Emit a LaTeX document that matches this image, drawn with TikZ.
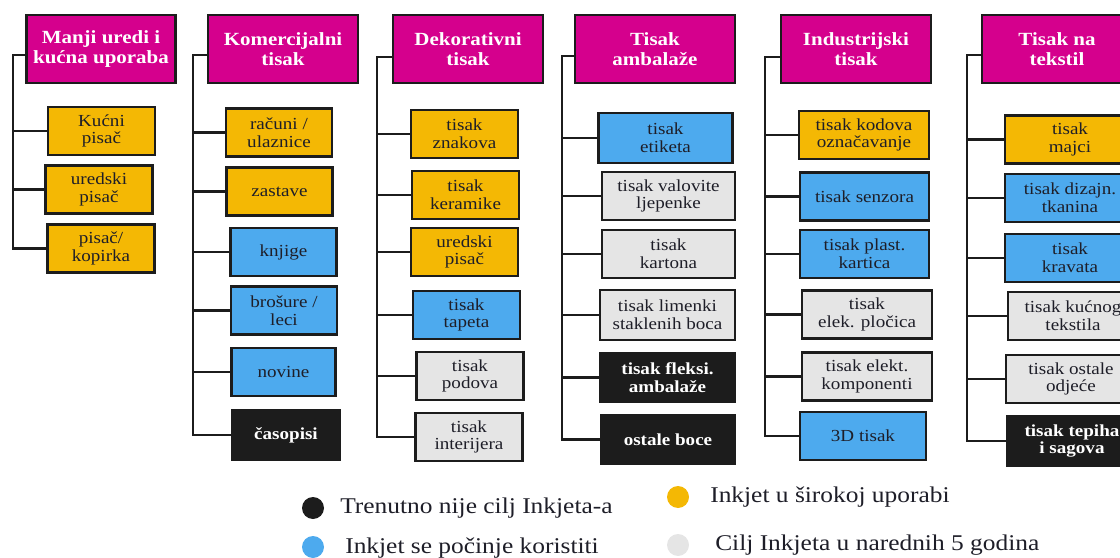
\documentclass[tikz,border=0pt]{standalone}
\usepackage{fontspec}
\setmainfont{Liberation Serif}[FakeStretch=1.13]
\usetikzlibrary{positioning,calc}
\definecolor{cmag}{RGB}{213, 0, 141}
\definecolor{cyel}{RGB}{244, 184, 4}
\definecolor{cblu}{RGB}{77, 170, 238}
\definecolor{cgry}{RGB}{229, 229, 229}
\definecolor{cblk}{RGB}{28, 28, 28}
\definecolor{ctxt}{RGB}{30, 30, 40}
\tikzset{
    head/.style={draw=cblk, line width=1.5pt, fill=cmag, text=white, align=center, inner sep=0pt,
        minimum width=150*0.025cm, minimum height=68*0.025cm, font=\bfseries\fontsize{13.2}{14.5}\selectfont},
    leaf/.style={draw=cblk, line width=1.5pt, text=ctxt, align=center, inner sep=0pt,
        minimum width=#1*0.025cm, minimum height=48*0.025cm, font=\fontsize{12}{12.6}\selectfont},
    leaf/.default=107,
    dark/.style={fill=cblk, text=white, font=\bfseries\fontsize{12}{12.6}\selectfont},
    trunk/.style={line width=1.6pt, cblk},
    dot/.style={circle, inner sep=0pt, minimum size=22*0.025cm},
    legtxt/.style={anchor=west, inner sep=0pt, text=ctxt, font=\fontsize{16}{18}\selectfont}
}
\begin{document}
\begin{tikzpicture}[x=0.025cm, y=-0.025cm]
    \useasboundingbox (0,0) rectangle (1120,558);
    \clip (0,0) rectangle (1120,558);

    % headers
    \node[head, minimum width=149*0.025cm] (h1) at (101,49) {Manji uredi i\\kućna uporaba};
    \node[head] (h2) at (283,49) {Komercijalni\\tisak};
    \node[head] (h3) at (468,49) {Dekorativni\\tisak};
    \node[head, minimum width=160*0.025cm] (h4) at (655,49) {Tisak\\ambalaže};
    \node[head] (h5) at (856,49) {Industrijski\\tisak};
    \node[head] (h6) at (1057,49) {Tisak na\\tekstil};

    % manji uredi
    \node[leaf, fill=cyel] (kucni) at (101.5,131) {Kućni\\pisač};
    \node[leaf, fill=cyel] (uredski) at (99,189.5) {uredski\\pisač};
    \node[leaf, fill=cyel] (kopirka) at (101,248.5) {pisač/\\kopirka};

    % komercijalni
    \node[leaf=106, fill=cyel] (racuni) at (279,132.5) {računi /\\ulaznice};
    \node[leaf=106, fill=cyel] (zastave) at (279.5,191.5) {zastave};
    \node[leaf=106, fill=cblu] (knjige) at (283.5,252) {knjige};
    \node[leaf=106, fill=cblu] (brosure) at (284,310.5) {brošure /\\leci};
    \node[leaf=104, fill=cblu] (novine) at (283.5,372) {novine};
    \node[leaf=108, dark, minimum height=50*0.025cm] (casopisi) at (286,435) {časopisi};

    % dekorativni
    \node[leaf, fill=cyel] (znakova) at (464.5,134) {tisak\\znakova};
    \node[leaf, fill=cyel] (keramike) at (465.5,195) {tisak\\keramike};
    \node[leaf, fill=cyel] (uredski2) at (464.5,252) {uredski\\pisač};
    \node[leaf, fill=cblu] (tapeta) at (466.5,315) {tisak\\tapeta};
    \node[leaf, fill=cgry] (podova) at (470,376) {tisak\\podova};
    \node[leaf, fill=cgry] (interijera) at (469,437) {tisak\\interijera};

    % ambalaza
    \node[leaf=134, fill=cblu, minimum height=50*0.025cm] (etiketa) at (665.5,138) {tisak\\etiketa};
    \node[leaf=133, fill=cgry] (valovite) at (668.5,196) {tisak valovite\\ljepenke};
    \node[leaf=133, fill=cgry] (kartona) at (668.5,254) {tisak\\kartona};
    \node[leaf=135, fill=cgry, minimum height=50*0.025cm] (limenki) at (667.5,315) {tisak limenki\\staklenih boca};
    \node[leaf=135, dark] (fleksi) at (667.5,377.5) {tisak fleksi.\\ambalaže};
    \node[leaf=134, dark] (boce) at (668,439.5) {ostale boce};

    % industrijski
    \node[leaf=130, fill=cyel] (kodova) at (864,135) {tisak kodova\\označavanje};
    \node[leaf=129, fill=cblu] (senzora) at (864.5,196.5) {tisak senzora};
    \node[leaf=129, fill=cblu] (kartica) at (864.5,254) {tisak plast.\\kartica};
    \node[leaf=130, fill=cgry] (plocica) at (867,314.5) {tisak\\elek. pločica};
    \node[leaf=130, fill=cgry] (komponenti) at (867,376.5) {tisak elekt.\\komponenti};
    \node[leaf=126, fill=cblu] (tisak3d) at (863,436) {3D tisak};

    % tekstil
    \node[leaf=130, fill=cyel] (majci) at (1070,139.5) {tisak\\majci};
    \node[leaf=130, fill=cblu] (tkanina) at (1070,198) {tisak dizajn.\\tkanina};
    \node[leaf=130, fill=cblu] (kravata) at (1070,258) {tisak\\kravata};
    \node[leaf=130, fill=cgry] (kucnog) at (1073,316) {tisak kućnog\\tekstila};
    \node[leaf=130, fill=cgry] (odjece) at (1071,379) {tisak ostale\\odjeće};
    \node[leaf=130, dark, minimum height=50*0.025cm] (tepiha) at (1072,441) {tisak tepiha\\i sagova};

    % trunks
    \coordinate (t1) at (13,55);
    \coordinate (t2) at (193,55);
    \coordinate (t3) at (377,57);
    \coordinate (t4) at (562,56);
    \coordinate (t5) at (765,57);
    \coordinate (t6) at (967,55);

    \draw[trunk] (h1.west |- t1) -- (t1) |- (kopirka.west);
    \foreach \n in {kucni,uredski}
        \draw[trunk] (t1 |- \n.west) -- (\n.west);

    \draw[trunk] (h2.west |- t2) -- (t2) |- (casopisi.west);
    \foreach \n in {racuni,zastave,knjige,brosure,novine}
        \draw[trunk] (t2 |- \n.west) -- (\n.west);

    \draw[trunk] (h3.west |- t3) -- (t3) |- (interijera.west);
    \foreach \n in {znakova,keramike,uredski2,tapeta,podova}
        \draw[trunk] (t3 |- \n.west) -- (\n.west);

    \draw[trunk] (h4.west |- t4) -- (t4) |- (boce.west);
    \foreach \n in {etiketa,valovite,kartona,limenki,fleksi}
        \draw[trunk] (t4 |- \n.west) -- (\n.west);

    \draw[trunk] (h5.west |- t5) -- (t5) |- (tisak3d.west);
    \foreach \n in {kodova,senzora,kartica,plocica,komponenti}
        \draw[trunk] (t5 |- \n.west) -- (\n.west);

    \draw[trunk] (h6.west |- t6) -- (t6) |- (tepiha.west);
    \foreach \n in {majci,tkanina,kravata,kucnog,odjece}
        \draw[trunk] (t6 |- \n.west) -- (\n.west);

    % legend
    \node[dot, fill=cblk] (lblk) at (313,508) {};
    \node[dot, fill=cblu] (lblu) at (313,547) {};
    \node[dot, fill=cyel] (lyel) at (678,497) {};
    \node[dot, fill=cgry] (lgry) at (678,545) {};
    \node[legtxt] (tblk) at (340,508) {Trenutno nije cilj Inkjeta-a};
    \node[legtxt] (tblu) at (345,548) {Inkjet se počinje koristiti};
    \node[legtxt] (tyel) at (710,497) {Inkjet u širokoj uporabi};
    \node[legtxt] (tgry) at (715,545) {Cilj Inkjeta u narednih 5 godina};
\end{tikzpicture}
\end{document}
